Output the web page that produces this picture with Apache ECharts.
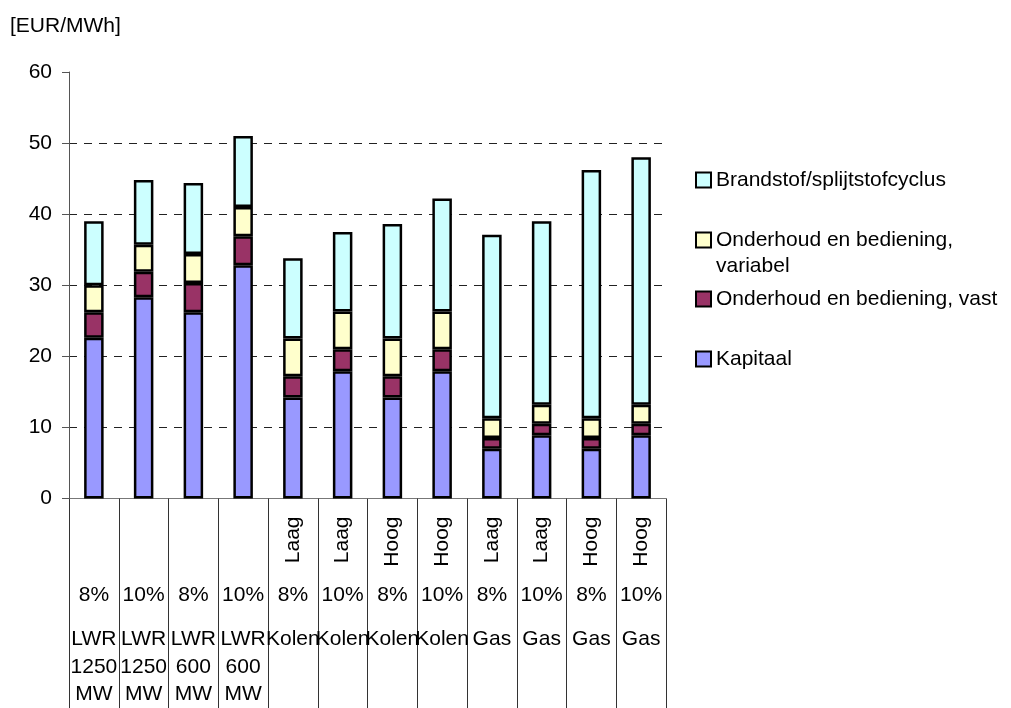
<!DOCTYPE html>
<html>
<head>
<meta charset="utf-8">
<script src="https://cdn.jsdelivr.net/npm/echarts@6/dist/echarts.min.js"></script>
<style>
  html, body { margin: 0; padding: 0; background: #fff; }
  #chart { width: 1011px; height: 708px; }
</style>
</head>
<body>
<div id="chart"></div>
<script>
// Plant type (bottom label row), discount rate and fuel price scenario per column
const plants = ['LWR\n1250\nMW', 'LWR\n1250\nMW', 'LWR\n600\nMW', 'LWR\n600\nMW',
                'Kolen', 'Kolen', 'Kolen', 'Kolen', 'Gas', 'Gas', 'Gas', 'Gas'];
const rates = ['8%', '10%', '8%', '10%', '8%', '10%', '8%', '10%', '8%', '10%', '8%', '10%'];
const fuelPrice = ['', '', '', '', 'Laag', 'Laag', 'Hoog', 'Hoog', 'Laag', 'Laag', 'Hoog', 'Hoog'];

// Cost components in EUR/MWh
const kapitaal   = [22.6, 28.3, 26.2, 32.8, 14.2, 17.9, 14.2, 17.9, 7.0, 8.9, 7.0, 8.9];
const ohVast     = [3.6, 3.6, 4.1, 4.1, 3.0, 3.1, 3.0, 3.1, 1.5, 1.6, 1.5, 1.6];
const ohVariabel = [3.8, 3.8, 4.1, 4.1, 5.3, 5.3, 5.3, 5.3, 2.8, 2.7, 2.8, 2.7];
const brandstof  = [9.0, 9.1, 10.0, 10.0, 11.3, 11.2, 16.1, 15.9, 25.8, 25.8, 34.9, 34.8];

const seriesNames = ['Kapitaal', 'Onderhoud en bediening, vast',
                     'Onderhoud en bediening, variabel', 'Brandstof/splijtstofcyclus'];
const seriesColors = ['#9999FF', '#993366', '#FFFFCC', '#CCFFFF'];
const seriesValues = [kapitaal, ohVast, ohVariabel, brandstof];

const FONT = 'Liberation Sans, Arial, sans-serif';
const keys = plants.map((p, i) => p.replace(/\n/g, ' ') + ' ' + rates[i] + ' ' + fuelPrice[i] + ' #' + i);

const chart = echarts.init(document.getElementById('chart'));

const baseText = { fontFamily: FONT, fontSize: 21, color: '#000' };

function legendAt(name, top, extra) {
  return Object.assign({
    data: [name],
    orient: 'vertical',
    left: 695,
    top: top,
    padding: 0,
    itemWidth: 15,
    itemHeight: 15,
    icon: 'rect',
    selectedMode: false,
    textStyle: Object.assign({}, baseText, { lineHeight: 24 })
  }, extra || {});
}

chart.setOption({
  animation: false,
  backgroundColor: '#fff',
  title: {
    text: '[EUR/MWh]',
    left: 10,
    top: 14,
    padding: 0,
    textStyle: Object.assign({}, baseText, { fontWeight: 'normal', lineHeight: 24 })
  },
  grid: { left: 69, right: 345, top: 72, bottom: 207 },
  legend: [
    legendAt(seriesNames[3], 168),
    // two-line entry: an empty leading line keeps the first text line level with the swatch
    legendAt(seriesNames[2], 201, {
      formatter: n => '\n' + n.replace('bediening, ', 'bediening,\n'),
      textStyle: Object.assign({}, baseText, { lineHeight: 26 })
    }),
    legendAt(seriesNames[1], 287),
    legendAt(seriesNames[0], 347)
  ],
  xAxis: [
    {
      type: 'category',
      position: 'bottom',
      data: keys,
      axisLine: { lineStyle: { color: '#777', width: 1 } },
      axisTick: { show: true, length: 210, lineStyle: { color: '#333', width: 1 } },
      axisLabel: {
        interval: 0, margin: 85, lineHeight: 24,
        fontFamily: FONT, fontSize: 21, color: '#000',
        formatter: (v, i) => rates[i]
      },
      splitLine: { show: false }
    },
    {
      type: 'category',
      position: 'bottom',
      data: keys,
      axisLine: { show: false },
      axisTick: { show: false },
      axisLabel: {
        interval: 0, margin: 18, rotate: 90,
        fontFamily: FONT, fontSize: 21, color: '#000',
        formatter: (v, i) => fuelPrice[i]
      },
      splitLine: { show: false }
    },
    {
      type: 'category',
      position: 'bottom',
      data: keys,
      axisLine: { show: false },
      axisTick: { show: false },
      axisLabel: {
        interval: 0, margin: 127, lineHeight: 27.5,
        fontFamily: FONT, fontSize: 21, color: '#000',
        formatter: (v, i) => plants[i]
      },
      splitLine: { show: false }
    }
  ],
  yAxis: {
    type: 'value',
    min: 0, max: 60, interval: 10,
    axisLine: { show: true, lineStyle: { color: '#555', width: 1 } },
    axisTick: { show: true, length: 7, lineStyle: { color: '#555' } },
    axisLabel: { margin: 17, fontFamily: FONT, fontSize: 21, color: '#000' },
    splitLine: {
      show: true, showMinLine: false, showMaxLine: false,
      lineStyle: { color: '#222', width: 1, type: [8, 7] }
    }
  },
  series: seriesNames.map((name, k) => ({
    name: name,
    type: 'bar',
    stack: 'kosten',
    xAxisIndex: 0,
    barWidth: 19.5,
    data: seriesValues[k],
    itemStyle: { color: seriesColors[k], borderColor: '#000', borderWidth: 2.5 },
    emphasis: { disabled: true }
  }))
});
</script>
</body>
</html>
